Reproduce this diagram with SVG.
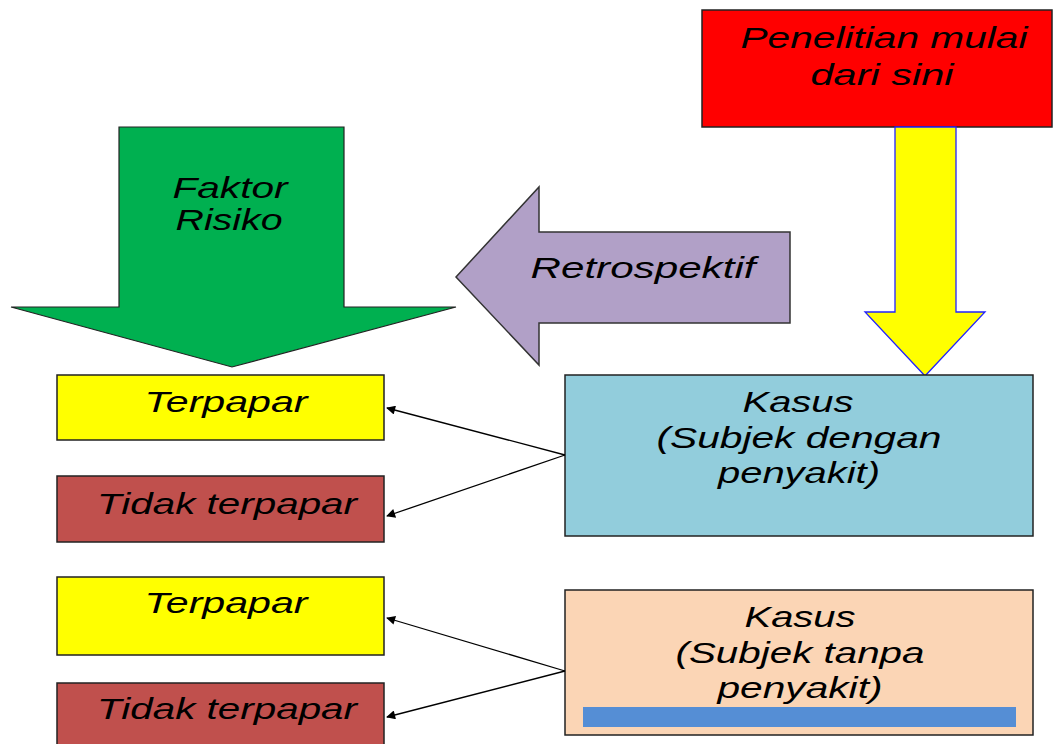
<svg xmlns="http://www.w3.org/2000/svg" width="1053" height="744" viewBox="0 0 1053 744">
<style>
.t{font-family:"Liberation Sans",Arial,sans-serif;font-style:italic;font-size:30px;fill:#000;text-anchor:middle}
.box{stroke:#222;stroke-width:1.5}
.conn{stroke:#000;stroke-width:1.3;fill:none;marker-end:url(#ah)}
</style>
<defs>
<marker id="ah" viewBox="0 0 10 10" refX="9" refY="5" markerWidth="11" markerHeight="9" markerUnits="userSpaceOnUse" orient="auto">
<path d="M0,0 L10,5 L0,10 Z" fill="#000"/>
</marker>
</defs>
<rect width="1053" height="744" fill="#fff"/>
<g id="faktor-risiko">
<polygon points="119,127 344,127 344,307 456,307 232,367 11,307 119,307" fill="#00B050" stroke="#222" stroke-width="1.2"/>
<text class="t" x="230" y="198" textLength="115" lengthAdjust="spacingAndGlyphs">Faktor</text>
<text class="t" x="229" y="230" textLength="107" lengthAdjust="spacingAndGlyphs">Risiko</text>
</g>
<g id="retrospektif">
<polygon points="456,277 539,187 539,232 790,232 790,323 539,323 539,365" fill="#B1A0C7" stroke="#333" stroke-width="1.5"/>
<text class="t" x="643" y="278" textLength="225" lengthAdjust="spacingAndGlyphs">Retrospektif</text>
</g>
<g id="penelitian">
<rect class="box" x="702" y="10" width="350" height="117" fill="#FF0000"/>
<text class="t" x="884" y="48" textLength="287" lengthAdjust="spacingAndGlyphs">Penelitian mulai</text>
<text class="t" x="882" y="85" textLength="143" lengthAdjust="spacingAndGlyphs">dari sini</text>
</g>
<g id="arrow-down">
<polygon points="895,127 956,127 956,312 985,312 925,376 865,312 895,312" fill="#FFFF00" stroke="#2222FF" stroke-width="1.3"/>
</g>
<g id="terpapar-1">
<rect class="box" x="57" y="375" width="327" height="65" fill="#FFFF00"/>
<text class="t" x="226" y="412" textLength="163" lengthAdjust="spacingAndGlyphs">Terpapar</text>
</g>
<g id="tidak-terpapar-1">
<rect class="box" x="57" y="476" width="327" height="66" fill="#C0504D"/>
<text class="t" x="227" y="514" textLength="260" lengthAdjust="spacingAndGlyphs">Tidak terpapar</text>
</g>
<g id="terpapar-2">
<rect class="box" x="57" y="577" width="327" height="78" fill="#FFFF00"/>
<text class="t" x="226" y="613" textLength="163" lengthAdjust="spacingAndGlyphs">Terpapar</text>
</g>
<g id="tidak-terpapar-2">
<rect class="box" x="57" y="683" width="327" height="70" fill="#C0504D"/>
<text class="t" x="227" y="719" textLength="260" lengthAdjust="spacingAndGlyphs">Tidak terpapar</text>
</g>
<g id="kasus-1">
<rect class="box" x="565" y="375" width="468" height="161" fill="#92CDDC"/>
<text class="t" x="798" y="412" textLength="111" lengthAdjust="spacingAndGlyphs">Kasus</text>
<text class="t" x="799" y="448" textLength="285" lengthAdjust="spacingAndGlyphs">(Subjek dengan</text>
<text class="t" x="799" y="483" textLength="162" lengthAdjust="spacingAndGlyphs">penyakit)</text>
</g>
<g id="kasus-2">
<rect class="box" x="565" y="590" width="468" height="145" fill="#FBD5B5"/>
<text class="t" x="800" y="627" textLength="111" lengthAdjust="spacingAndGlyphs">Kasus</text>
<text class="t" x="800" y="663" textLength="249" lengthAdjust="spacingAndGlyphs">(Subjek tanpa</text>
<text class="t" x="800" y="698" textLength="165" lengthAdjust="spacingAndGlyphs">penyakit)</text>
<rect x="583" y="707" width="433" height="20" fill="#558ED5"/>
</g>
<g id="connectors">
<line class="conn" x1="565" y1="455" x2="387" y2="408"/>
<line class="conn" x1="565" y1="455" x2="387" y2="516"/>
<line class="conn" x1="565" y1="671" x2="387" y2="618"/>
<line class="conn" x1="565" y1="671" x2="387" y2="717"/>
</g>
</svg>
